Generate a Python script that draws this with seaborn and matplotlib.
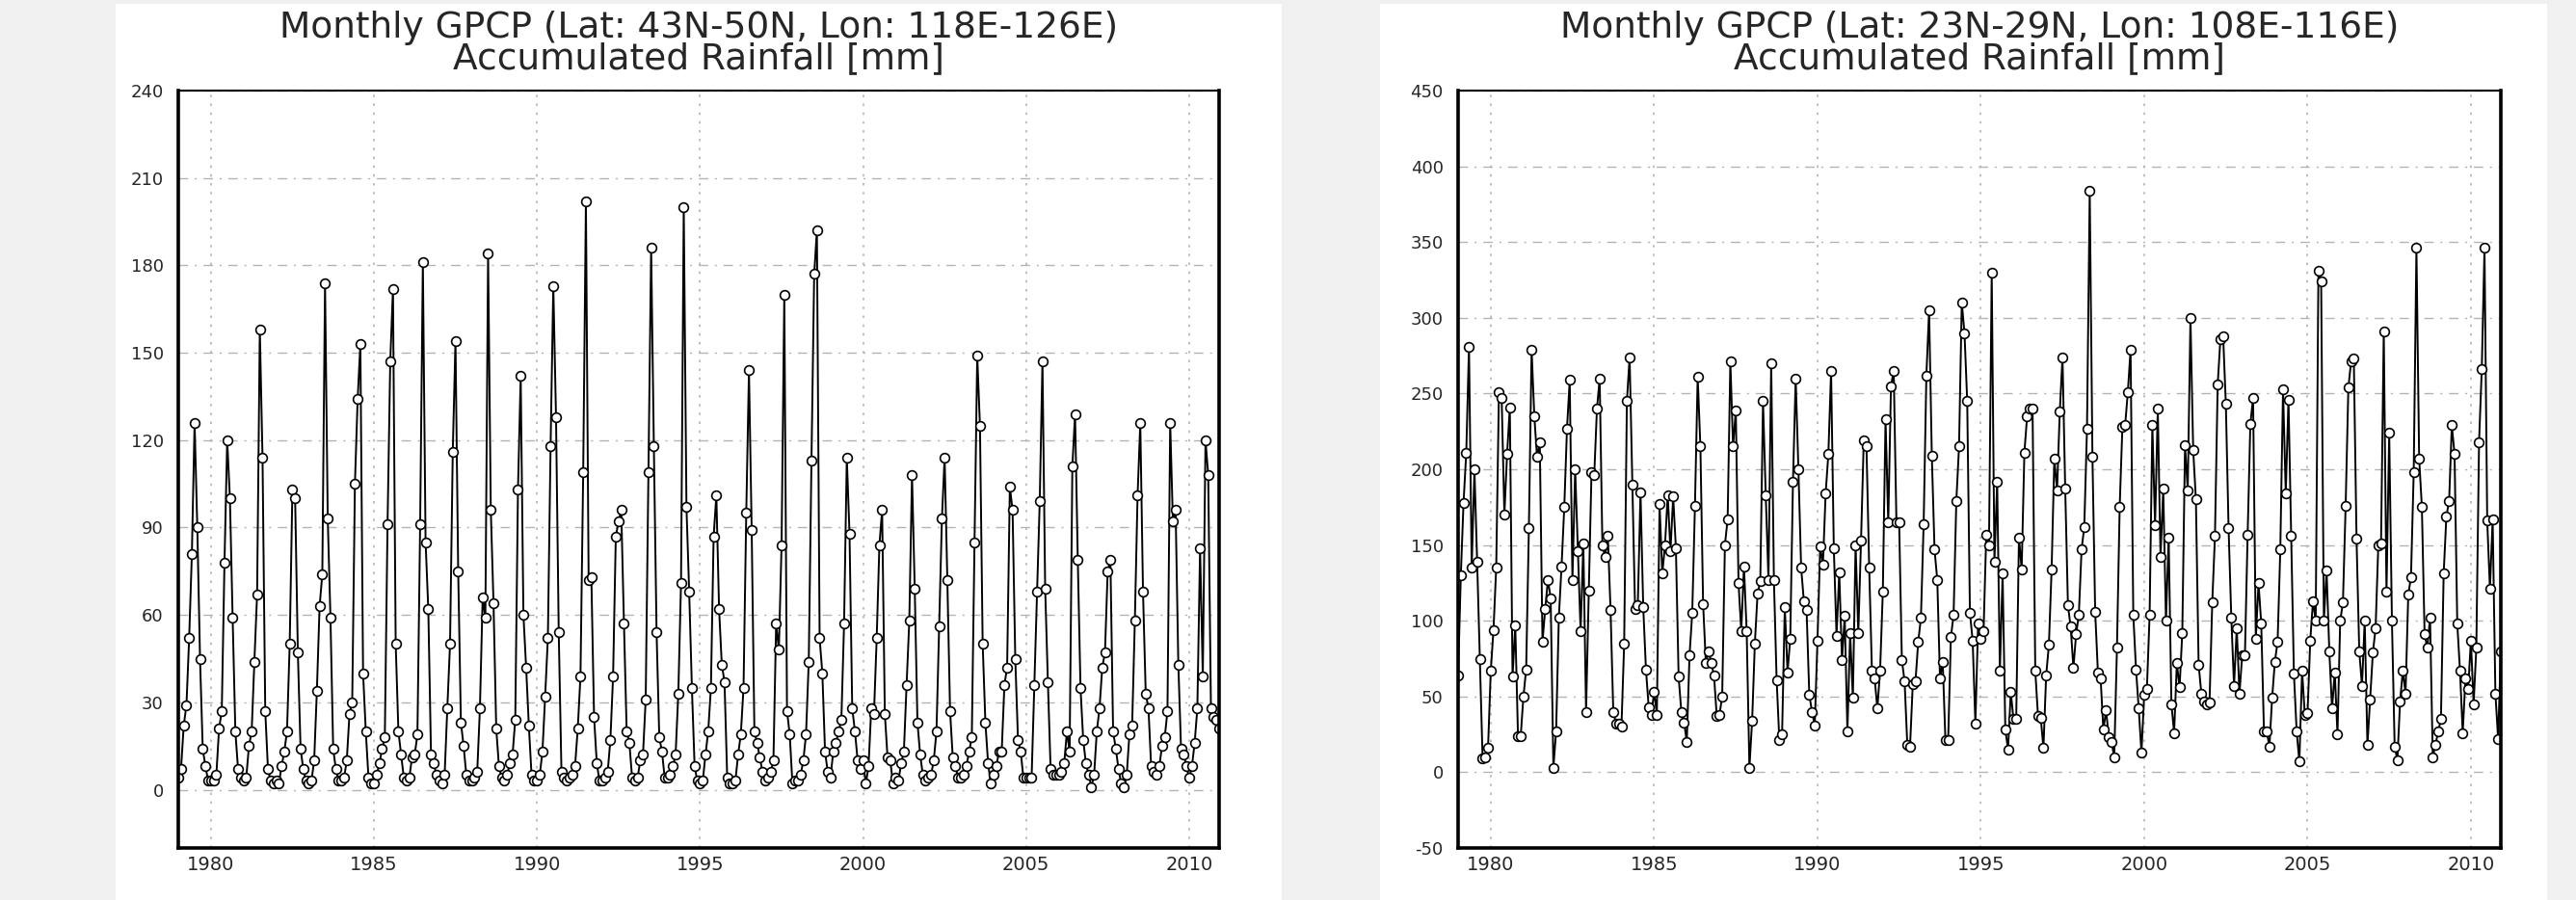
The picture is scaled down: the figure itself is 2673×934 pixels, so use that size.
import numpy as np
import pandas as pd
import matplotlib
matplotlib.use('Agg')
import matplotlib.pyplot as plt
from matplotlib.patches import Rectangle
import seaborn as sns

# monthly accumulated rainfall [mm], Jan..Dec, 1979-2010
years = list(range(1979, 2011))

north_rain = [
    4, 7, 22, 29, 52, 81, 126, 90, 45, 14, 8, 3,            # 1979
    3, 3, 5, 21, 27, 78, 120, 100, 59, 20, 7, 4,            # 1980
    3, 4, 15, 20, 44, 67, 158, 114, 27, 7, 3, 2,            # 1981
    3, 2, 8, 13, 20, 50, 103, 100, 47, 14, 7, 3,            # 1982
    2, 3, 10, 34, 63, 74, 174, 93, 59, 14, 7, 3,            # 1983
    3, 4, 10, 26, 30, 105, 134, 153, 40, 20, 4, 2,          # 1984
    2, 5, 9, 14, 18, 91, 147, 172, 50, 20, 12, 4,           # 1985
    3, 4, 11, 12, 19, 91, 181, 85, 62, 12, 9, 5,            # 1986
    3, 2, 5, 28, 50, 116, 154, 75, 23, 15, 5, 3,            # 1987
    3, 4, 6, 28, 66, 59, 184, 96, 64, 21, 8, 4,             # 1988
    3, 5, 9, 12, 24, 103, 142, 60, 42, 22, 5, 3,            # 1989
    3, 5, 13, 32, 52, 118, 173, 128, 54, 6, 4, 3,           # 1990
    4, 5, 8, 21, 39, 109, 202, 72, 73, 25, 9, 3,            # 1991
    3, 4, 6, 17, 39, 87, 92, 96, 57, 20, 16, 4,             # 1992
    3, 4, 10, 12, 31, 109, 186, 118, 54, 18, 13, 4,         # 1993
    4, 5, 8, 12, 33, 71, 200, 97, 68, 35, 8, 3,             # 1994
    2, 3, 12, 20, 35, 87, 101, 62, 43, 37, 4, 2,            # 1995
    2, 3, 12, 19, 35, 95, 144, 89, 20, 16, 11, 6,           # 1996
    3, 4, 6, 10, 57, 48, 84, 170, 27, 19, 2, 3,             # 1997
    3, 5, 10, 19, 44, 113, 177, 192, 52, 40, 13, 6,         # 1998
    4, 13, 16, 20, 24, 57, 114, 88, 28, 20, 10, 7,          # 1999
    10, 2, 8, 28, 26, 52, 84, 96, 26, 11, 10, 2,            # 2000
    4, 3, 9, 13, 36, 58, 108, 69, 23, 12, 5, 3,             # 2001
    4, 5, 10, 20, 56, 93, 114, 72, 27, 11, 8, 4,            # 2002
    4, 5, 8, 13, 18, 85, 149, 125, 50, 23, 9, 2,            # 2003
    5, 8, 13, 13, 36, 42, 104, 96, 45, 17, 13, 4,           # 2004
    4, 4, 4, 36, 68, 99, 147, 69, 37, 7, 5, 5,              # 2005
    5, 6, 9, 20, 13, 111, 129, 79, 35, 17, 9, 5,            # 2006
    1, 5, 20, 28, 42, 47, 75, 79, 20, 14, 7, 2,             # 2007
    1, 5, 19, 22, 58, 101, 126, 68, 33, 28, 8, 6,           # 2008
    5, 8, 15, 18, 27, 126, 92, 96, 43, 14, 12, 8,           # 2009
    4, 8, 16, 28, 83, 39, 120, 108, 28, 25, 24, 21,         # 2010
]

south_rain = [
    64, 130, 178, 211, 281, 135, 200, 139, 75, 9, 10, 16,        # 1979
    67, 94, 135, 251, 247, 170, 210, 241, 63, 97, 24, 24,        # 1980
    50, 68, 161, 279, 235, 208, 218, 86, 108, 127, 115, 3,       # 1981
    27, 102, 136, 175, 227, 259, 127, 200, 146, 93, 151, 40,     # 1982
    120, 198, 196, 240, 260, 150, 142, 156, 107, 40, 32, 32,     # 1983
    30, 85, 245, 274, 190, 108, 110, 185, 109, 68, 43, 38,       # 1984
    53, 38, 177, 131, 150, 183, 146, 182, 148, 63, 40, 33,       # 1985
    20, 77, 105, 176, 261, 215, 111, 72, 80, 72, 64, 37,         # 1986
    38, 50, 150, 167, 271, 215, 239, 125, 93, 136, 93, 3,        # 1987
    34, 85, 118, 126, 245, 183, 127, 270, 127, 61, 21, 25,       # 1988
    109, 66, 88, 192, 260, 200, 135, 113, 107, 51, 40, 31,       # 1989
    87, 149, 137, 184, 210, 265, 148, 90, 132, 74, 103, 27,      # 1990
    92, 49, 150, 92, 153, 219, 215, 135, 67, 62, 42, 67,         # 1991
    119, 233, 165, 255, 265, 165, 165, 74, 60, 18, 17, 58,       # 1992
    60, 86, 102, 164, 262, 305, 209, 147, 127, 62, 73, 21,       # 1993
    21, 89, 104, 179, 215, 310, 290, 245, 105, 87, 32, 98,       # 1994
    88, 93, 157, 150, 330, 139, 192, 67, 131, 28, 15, 53,        # 1995
    35, 35, 155, 134, 211, 235, 240, 240, 67, 37, 36, 16,        # 1996
    64, 84, 134, 207, 186, 238, 274, 187, 110, 96, 69, 91,       # 1997
    104, 147, 162, 227, 384, 208, 106, 66, 62, 28, 41, 23,       # 1998
    20, 10, 82, 175, 228, 229, 251, 279, 104, 68, 42, 13,        # 1999
    51, 55, 104, 229, 163, 240, 142, 187, 100, 155, 45, 26,      # 2000
    72, 56, 92, 216, 186, 300, 213, 180, 71, 52, 47, 45,         # 2001
    46, 112, 156, 256, 286, 288, 243, 161, 102, 57, 95, 52,      # 2002
    77, 77, 157, 230, 247, 88, 125, 98, 27, 27, 17, 49,          # 2003
    73, 86, 147, 253, 184, 246, 156, 65, 27, 7, 67, 38,          # 2004
    39, 87, 113, 100, 331, 324, 100, 133, 80, 42, 66, 25,        # 2005
    100, 112, 176, 254, 271, 273, 154, 80, 57, 100, 18, 48,      # 2006
    79, 95, 150, 151, 291, 119, 224, 100, 17, 8, 47, 67,         # 2007
    52, 117, 129, 198, 346, 207, 175, 91, 82, 102, 10, 18,       # 2008
    27, 35, 131, 169, 179, 229, 210, 98, 67, 26, 62, 55,         # 2009
    87, 45, 82, 218, 266, 346, 166, 121, 167, 52, 22, 80,        # 2010
]

titles = ['Monthly GPCP (Lat: 43N-50N, Lon: 118E-126E)',
          'Monthly GPCP (Lat: 23N-29N, Lon: 108E-116E)']
subtitle = 'Accumulated Rainfall [mm]'
year_ticks = [1980, 1985, 1990, 1995, 2000, 2005, 2010]
north_yticks = [0, 30, 60, 90, 120, 150, 180, 210, 240]
south_yticks = [-50, 0, 50, 100, 150, 200, 250, 300, 350, 400, 450]

#%%

months = pd.date_range('1979-01-01', '2010-12-01', freq='MS')
t = months.year + (months.month - 1) / 12.0
df = pd.DataFrame({'t': t, 'north': north_rain, 'south': south_rain})

#%%

sns.set_style('white')
plt.rcParams['font.family'] = ['DejaVu Sans']

W, H = 2673, 934
fig = plt.figure(figsize=(W / 100, H / 100), dpi=100, facecolor='#f0f0f0')

# white panels behind each plot
fig.patches.append(Rectangle((120 / W, 0), 1210 / W, 1 - 4 / H, transform=fig.transFigure,
                             facecolor='white', edgecolor='none', zorder=-10))
fig.patches.append(Rectangle((1432 / W, 0), 1211 / W, 1 - 4 / H, transform=fig.transFigure,
                             facecolor='white', edgecolor='none', zorder=-10))

ax_left = fig.add_axes([185 / W, 1 - 880 / H, 1080 / W, 786 / H])
ax_right = fig.add_axes([1513 / W, 1 - 880 / H, 1082 / W, 786 / H])

panels = [
    (ax_left, 'north', north_yticks, (-20, 240), titles[0]),
    (ax_right, 'south', south_yticks, (-50, 450), titles[1]),
]

for ax, col, yticks, ylim, title in panels:
    ax.set_facecolor('white')
    sns.lineplot(data=df, x='t', y=col, ax=ax, color='black', linewidth=1.4,
                 marker='o', markersize=7, markerfacecolor='white',
                 markeredgecolor='black', markeredgewidth=1.2, sort=False, estimator=None)

    ax.set_xlim(df['t'].iloc[0], df['t'].iloc[-1])
    ax.set_ylim(*ylim)
    ax.set_xticks(year_ticks)
    ax.set_xticklabels([str(y) for y in year_ticks], fontsize=14)
    ax.set_yticks(yticks)
    ax.set_yticklabels([str(v) for v in yticks], fontsize=13)
    ax.set_xlabel('')
    ax.set_ylabel('')

    ax.yaxis.grid(True, color='#b4b4b4', linestyle=(0, (7, 5, 1.5, 5)), linewidth=1.0)
    ax.xaxis.grid(True, color='#b4b4b4', linestyle=(0, (1.5, 4)), linewidth=1.2)
    ax.set_axisbelow(True)

    ax.tick_params(axis='y', direction='out', length=6, width=1.2, color='black', pad=5)
    ax.tick_params(axis='x', direction='out', length=4, width=1.2, color='black', pad=2)

    for side in ['left', 'bottom', 'right']:
        ax.spines[side].set_linewidth(2.6)
        ax.spines[side].set_color('black')
    ax.spines['top'].set_linewidth(1.5)
    ax.spines['top'].set_color('black')

    # two title lines centred over the plot
    cx = ax.get_position().x0 + ax.get_position().width / 2
    fig.text(cx, 1 - 29 / H, title, ha='center', va='center', fontsize=27)
    fig.text(cx, 1 - 61 / H, subtitle, ha='center', va='center', fontsize=27)

plt.savefig('out.png', dpi=100, facecolor=fig.get_facecolor())
